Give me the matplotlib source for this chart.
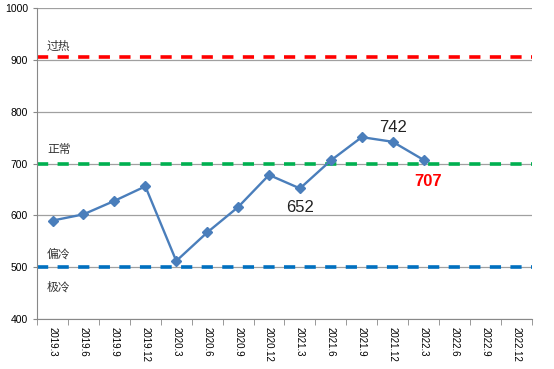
import matplotlib.pyplot as plt
import numpy as np

plt.rcParams['font.family'] = ['Liberation Sans', 'Noto Sans CJK SC', 'DejaVu Sans']

quarters = ['2019.3', '2019.6', '2019.9', '2019.12', '2020.3', '2020.6', '2020.9', '2020.12',
            '2021.3', '2021.6', '2021.9', '2021.12', '2022.3', '2022.6', '2022.9', '2022.12']
index_values = [590, 602, 628, 656, 512, 567, 616, 678, 652, 706, 751, 742, 707]

levels = [905, 700, 500]
level_colors = ['#FF0000', '#00B050', '#0070C0']
zone_names = ['过热', '正常', '偏冷', '极冷']
zone_y = [926, 726, 524, 460]

fig = plt.figure(figsize=(5.54, 3.69), dpi=100)
ax = fig.add_axes([0.067, 0.1355, 0.893, 0.8425])

x = np.arange(len(quarters))
ax.set_xlim(-0.5, len(quarters) - 0.5)
ax.set_ylim(400, 1000)
ax.set_yticks(range(400, 1001, 100))
ax.grid(axis='y', color='#A0A0A0', linewidth=0.9)
ax.set_axisbelow(True)

for lv, c in zip(levels, level_colors):
    ax.axhline(lv, color=c, linewidth=2.6, dashes=(3.1, 2.6), zorder=2)

ax.plot(x[:len(index_values)], index_values, color='#4A7EBB', linewidth=1.7,
        marker='D', markersize=5, zorder=3)

for name, yy in zip(zone_names, zone_y):
    ax.text(0.02, yy, name, transform=ax.get_yaxis_transform(), fontsize=8.5,
            color='#333333', va='center', ha='left')

ax.text(8, 615, '652', fontsize=12, ha='center', va='center', color='#222222')
ax.text(11, 770, '742', fontsize=12, ha='center', va='center', color='#222222')
ax.text(12.15, 665, '707', fontsize=12, ha='center', va='center', color='#FF0000',
        fontweight='bold')

ax.set_xticks(x)
ax.set_xticklabels(quarters, rotation=270, fontsize=7)
ax.set_xticks(np.arange(-0.5, len(quarters), 1), minor=True)
ax.tick_params(axis='x', which='major', length=0, pad=6)
ax.tick_params(axis='x', which='minor', length=4, color='#888888')
ax.tick_params(axis='y', labelsize=7.5, length=3, color='#888888')

for s in ['top', 'right']:
    ax.spines[s].set_visible(False)
for s in ['left', 'bottom']:
    ax.spines[s].set_color('#888888')

fig.savefig('out.png', dpi=100)
